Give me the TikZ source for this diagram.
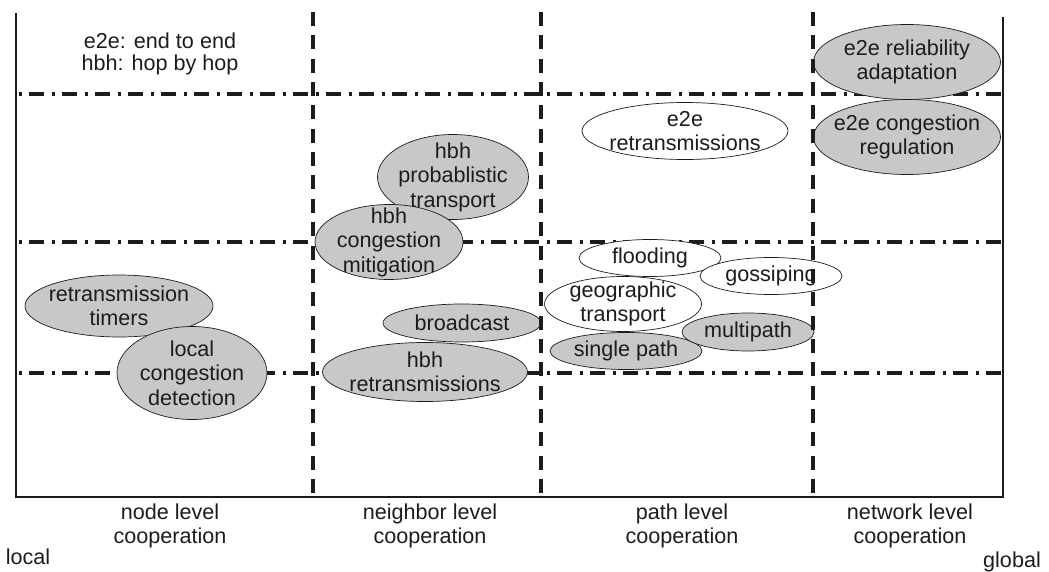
\documentclass[tikz,border=0pt]{standalone}
\usepackage{fontspec}
\setmainfont{Liberation Sans}
\usetikzlibrary{shapes.geometric}
\definecolor{inkgray}{RGB}{30,27,28}
\definecolor{blobgray}{RGB}{200,200,200}

\begin{document}
\begin{tikzpicture}[
  x=1pt, y=-1pt,
  font=\fontsize{21.6}{24.5}\selectfont,
  blob/.style={ellipse, draw=inkgray, fill=blobgray, line width=0.7pt, inner sep=0pt},
  hollow/.style={blob, fill=white},
  lbl/.style={align=center, text=inkgray, inner sep=0pt},
  axis/.style={line width=1.3pt, draw=inkgray},
  rowline/.style={line width=3.6pt, draw=inkgray, dash pattern=on 3pt off 7pt on 15pt off 8pt},
  colline/.style={line width=3.6pt, draw=inkgray, dash pattern=on 14pt off 9.35pt}
]
  \useasboundingbox (0,0) rectangle (1049,572);

  % Marco
  \coordinate (tl) at (16,13);
  \coordinate (bl) at (16,497);
  \coordinate (br) at (1003,497);
  \coordinate (tr) at (1003,17);
  \draw[axis] (tl) -- (bl) -- (br) -- (tr);

  % Filas
  \foreach \y [count=\r] in {94,242,373} {
    \coordinate (r\r w) at (18.5,\y);
    \coordinate (r\r e) at (1003,\y);
    \draw[rowline] (r\r w) -- (r\r e);
  }

  % Elipses blancas
  \foreach \n/\x/\y/\w/\h/\t in {
      e2eret/685/131/206/57/e2e\\retransmissions,
      flood/650/258/142/37/flooding,
      gossip/771/276/142/37/gossiping,
      geo/623/304/157/55/geographic\\transport} {
    \node[hollow, minimum width=\w pt, minimum height=\h pt] (\n) at (\x,\y) {};
    \node[lbl] (\n-t) at (\n) {\t};
  }

  % Elipses grises
  \foreach \n/\x/\y/\w/\h/\t in {
      timers/119/306/188/62/retransmission\\timers,
      detect/192/373/150/93/local\\congestion\\detection,
      probab/453/177/151/85/hbh\\probablistic\\transport,
      mitig/389/242/148/75/hbh\\congestion\\mitigation,
      bcast/462/323/158/38/broadcast,
      hbhret/425/372/205/59/hbh\\retransmissions,
      e2erel/907/62/187/75/e2e reliability\\adaptation,
      e2econg/907/137/187/75/e2e congestion\\regulation,
      single/626/351/152/37/single path,
      multi/748/332/132/38/multipath} {
    \node[blob, minimum width=\w pt, minimum height=\h pt] (\n) at (\x,\y) {};
    \node[lbl] (\n-t) at (\n) {\t};
  }

  % Columnas
  \foreach \x [count=\c] in {313,541,813} {
    \coordinate (c\c n) at (\x,12);
    \coordinate (c\c s) at (\x,493);
    \draw[colline] (c\c n) -- (c\c s);
  }

  % Etiquetas
  \node[lbl, font=\fontsize{21.6}{22}\selectfont] (legend) at (160,54) {e2e: end to end\\hbh: hop by hop};
  \foreach \n/\x/\t in {node/170/node level, neigh/430/neighbor level, path/682/path level, net/910/network level} {
    \node[lbl] (\n) at (\x,526) {\t\\cooperation};
  }
  \node[lbl] (local) at (28,557) {local};
  \node[lbl] (global) at (1012,562) {global};
\end{tikzpicture}
\end{document}
